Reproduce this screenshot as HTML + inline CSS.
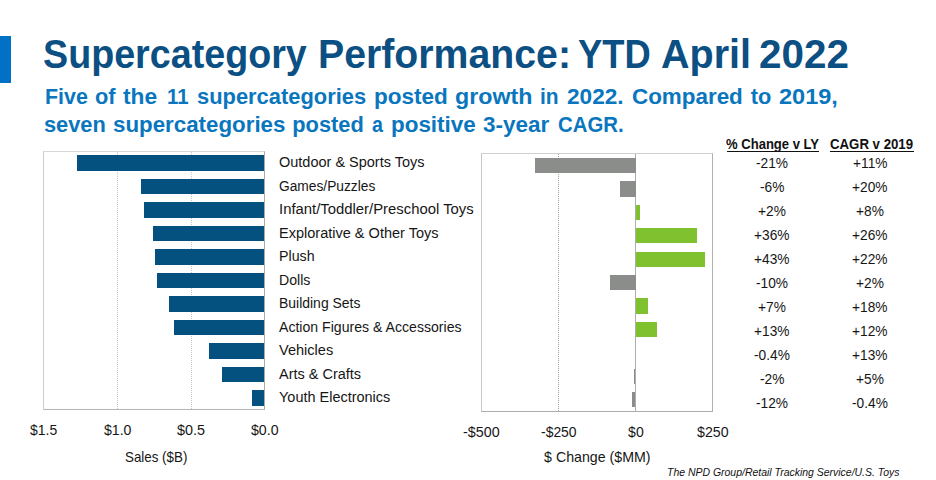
<!DOCTYPE html><html><head><meta charset="utf-8"><title>Supercategory Performance</title><style>
html,body{margin:0;padding:0;background:#fff;}body{width:936px;height:480px;position:relative;overflow:hidden;font-family:"Liberation Sans",sans-serif;}.t{position:absolute;white-space:nowrap;line-height:1;transform-origin:0 0;}.b{position:absolute;}
</style></head><body>
<div class="b" style="left:0;top:36px;width:11px;height:47px;background:#0071c5"></div>
<div class="b" style="left:43px;top:151px;width:220px;height:257px;border:1px solid #cdcdcd;border-top-color:#d8d8d8;border-right-color:#aeaaa4;border-bottom-color:#b4b4b4;"></div>
<div class="b" style="left:117px;top:152px;width:0;height:257px;border-left:1px dotted #c6c6c6"></div>
<div class="b" style="left:191px;top:152px;width:0;height:257px;border-left:1px dotted #c6c6c6"></div>
<div class="b" style="left:77px;top:155.05px;width:187.00px;height:15.5px;background:#04507f"></div>
<div class="b" style="left:141px;top:178.55px;width:123.00px;height:15.5px;background:#04507f"></div>
<div class="b" style="left:144px;top:202.05px;width:120.00px;height:15.5px;background:#04507f"></div>
<div class="b" style="left:153.3px;top:225.55px;width:110.70px;height:15.5px;background:#04507f"></div>
<div class="b" style="left:155.3px;top:249.05px;width:108.70px;height:15.5px;background:#04507f"></div>
<div class="b" style="left:157px;top:272.55px;width:107.00px;height:15.5px;background:#04507f"></div>
<div class="b" style="left:169.2px;top:296.05px;width:94.80px;height:15.5px;background:#04507f"></div>
<div class="b" style="left:174.3px;top:319.55px;width:89.70px;height:15.5px;background:#04507f"></div>
<div class="b" style="left:209.2px;top:343.05px;width:54.80px;height:15.5px;background:#04507f"></div>
<div class="b" style="left:222px;top:366.55px;width:42.00px;height:15.5px;background:#04507f"></div>
<div class="b" style="left:252.2px;top:390.05px;width:11.80px;height:15.5px;background:#04507f"></div>
<div class="b" style="left:481px;top:153px;width:230px;height:257px;border:1px solid #c6c6c6;border-top-color:#d0d0d0;border-bottom-color:#adadad;border-right-color:#b0b0b0"></div>
<div class="b" style="left:558px;top:154px;width:0;height:257px;border-left:1px dotted #a0a0a0"></div>
<div class="b" style="left:635px;top:154px;width:1px;height:257px;background:#adadad"></div>
<div class="b" style="left:535.00px;top:157.90px;width:100.50px;height:15.3px;background:#8b8d8b"></div>
<div class="b" style="left:620.00px;top:181.32px;width:15.50px;height:15.3px;background:#8b8d8b"></div>
<div class="b" style="left:636.00px;top:204.74px;width:4.30px;height:15.3px;background:#80c12f"></div>
<div class="b" style="left:636.00px;top:228.16px;width:60.80px;height:15.3px;background:#80c12f"></div>
<div class="b" style="left:636.00px;top:251.58px;width:68.70px;height:15.3px;background:#80c12f"></div>
<div class="b" style="left:610.00px;top:275.00px;width:25.50px;height:15.3px;background:#8b8d8b"></div>
<div class="b" style="left:636.00px;top:298.42px;width:11.90px;height:15.3px;background:#80c12f"></div>
<div class="b" style="left:636.00px;top:321.84px;width:20.90px;height:15.3px;background:#80c12f"></div>
<div class="b" style="left:634.20px;top:368.68px;width:1.30px;height:15.3px;background:#8b8d8b"></div>
<div class="b" style="left:632.20px;top:392.10px;width:3.30px;height:15.3px;background:#8b8d8b"></div>
<div class="b" style="left:726.5px;top:151px;width:92.5px;height:1px;background:#111"></div>
<div class="b" style="left:830px;top:151px;width:83.5px;height:1px;background:#111"></div>
<div class="t" style="left:43.07px;top:35.19px;font-size:40.3px;color:#0b4f83;transform:scaleX(0.9349);font-weight:bold;">Supercategory</div>
<div class="t" style="left:318.05px;top:35.19px;font-size:40.3px;color:#0b4f83;transform:scaleX(0.9737);font-weight:bold;">Performance:</div>
<div class="t" style="left:578.40px;top:35.19px;font-size:40.3px;color:#0b4f83;transform:scaleX(0.9013);font-weight:bold;">YTD</div>
<div class="t" style="left:660.72px;top:35.19px;font-size:40.3px;color:#0b4f83;transform:scaleX(0.9809);font-weight:bold;">April</div>
<div class="t" style="left:758.70px;top:35.19px;font-size:40.3px;color:#0b4f83;transform:scaleX(1.0034);font-weight:bold;">2022</div>
<div class="t" style="left:44.52px;top:85.55px;font-size:21.8px;color:#0a76be;transform:scaleX(0.9810);font-weight:bold;">Five</div>
<div class="t" style="left:95.00px;top:85.55px;font-size:21.8px;color:#0a76be;transform:scaleX(1.0000);font-weight:bold;">of</div>
<div class="t" style="left:123.30px;top:85.55px;font-size:21.8px;color:#0a76be;transform:scaleX(1.0437);font-weight:bold;">the</div>
<div class="t" style="left:166.76px;top:85.55px;font-size:21.8px;color:#0a76be;transform:scaleX(0.9364);font-weight:bold;">11</div>
<div class="t" style="left:197.30px;top:85.55px;font-size:21.8px;color:#0a76be;transform:scaleX(1.0042);font-weight:bold;">supercategories</div>
<div class="t" style="left:373.97px;top:85.55px;font-size:21.8px;color:#0a76be;transform:scaleX(1.0329);font-weight:bold;">posted</div>
<div class="t" style="left:455.00px;top:85.55px;font-size:21.8px;color:#0a76be;transform:scaleX(1.0653);font-weight:bold;">growth</div>
<div class="t" style="left:540.04px;top:85.55px;font-size:21.8px;color:#0a76be;transform:scaleX(0.9611);font-weight:bold;">in</div>
<div class="t" style="left:566.70px;top:85.55px;font-size:21.8px;color:#0a76be;transform:scaleX(1.0370);font-weight:bold;">2022.</div>
<div class="t" style="left:632.30px;top:85.55px;font-size:21.8px;color:#0a76be;transform:scaleX(1.0280);font-weight:bold;">Compared</div>
<div class="t" style="left:750.70px;top:85.55px;font-size:21.8px;color:#0a76be;transform:scaleX(1.0000);font-weight:bold;">to</div>
<div class="t" style="left:779.00px;top:85.55px;font-size:21.8px;color:#0a76be;transform:scaleX(1.0796);font-weight:bold;">2019,</div>
<div class="t" style="left:44.00px;top:114.25px;font-size:21.8px;color:#0a76be;transform:scaleX(1.0000);font-weight:bold;">seven</div>
<div class="t" style="left:112.98px;top:114.25px;font-size:21.8px;color:#0a76be;transform:scaleX(1.0240);font-weight:bold;">supercategories</div>
<div class="t" style="left:292.30px;top:114.25px;font-size:21.8px;color:#0a76be;transform:scaleX(1.0000);font-weight:bold;">posted</div>
<div class="t" style="left:371.65px;top:114.25px;font-size:21.8px;color:#0a76be;transform:scaleX(0.9000);font-weight:bold;">a</div>
<div class="t" style="left:390.67px;top:114.25px;font-size:21.8px;color:#0a76be;transform:scaleX(1.0284);font-weight:bold;">positive</div>
<div class="t" style="left:483.30px;top:114.25px;font-size:21.8px;color:#0a76be;transform:scaleX(1.0312);font-weight:bold;">3-year</div>
<div class="t" style="left:558.30px;top:114.25px;font-size:21.8px;color:#0a76be;transform:scaleX(0.9333);font-weight:bold;">CAGR.</div>
<div class="t" style="left:279.10px;top:156.27px;font-size:13.8px;color:#161616;transform:scaleX(1.0504);">Outdoor &amp; Sports Toys</div>
<div class="t" style="left:279.10px;top:179.79px;font-size:13.8px;color:#161616;transform:scaleX(0.9969);">Games/Puzzles</div>
<div class="t" style="left:279.10px;top:203.31px;font-size:13.8px;color:#161616;transform:scaleX(1.0773);">Infant/Toddler/Preschool Toys</div>
<div class="t" style="left:279.10px;top:226.83px;font-size:13.8px;color:#161616;transform:scaleX(1.0526);">Explorative &amp; Other Toys</div>
<div class="t" style="left:279.10px;top:250.35px;font-size:13.8px;color:#161616;transform:scaleX(1.0294);">Plush</div>
<div class="t" style="left:279.10px;top:273.87px;font-size:13.8px;color:#161616;transform:scaleX(1.0226);">Dolls</div>
<div class="t" style="left:279.10px;top:297.39px;font-size:13.8px;color:#161616;transform:scaleX(1.0111);">Building Sets</div>
<div class="t" style="left:279.10px;top:320.91px;font-size:13.8px;color:#161616;transform:scaleX(1.0218);">Action Figures &amp; Accessories</div>
<div class="t" style="left:279.10px;top:344.43px;font-size:13.8px;color:#161616;transform:scaleX(1.0549);">Vehicles</div>
<div class="t" style="left:279.10px;top:367.95px;font-size:13.8px;color:#161616;transform:scaleX(1.0500);">Arts &amp; Crafts</div>
<div class="t" style="left:279.10px;top:391.47px;font-size:13.8px;color:#161616;transform:scaleX(1.0491);">Youth Electronics</div>
<div class="t" style="left:29.70px;top:422.65px;font-size:14.0px;color:#161616;transform:scaleX(0.9963);">$1.5</div>
<div class="t" style="left:103.50px;top:422.65px;font-size:14.0px;color:#161616;transform:scaleX(1.0074);">$1.0</div>
<div class="t" style="left:176.80px;top:422.65px;font-size:14.0px;color:#161616;transform:scaleX(1.0259);">$0.5</div>
<div class="t" style="left:251.10px;top:422.65px;font-size:14.0px;color:#161616;transform:scaleX(1.0111);">$0.0</div>
<div class="t" style="left:125.06px;top:449.88px;font-size:14.2px;color:#161616;transform:scaleX(0.9415);">Sales ($B)</div>
<div class="t" style="left:463.30px;top:424.95px;font-size:14.0px;color:#161616;transform:scaleX(1.0222);">-$500</div>
<div class="t" style="left:541.00px;top:424.95px;font-size:14.0px;color:#161616;transform:scaleX(0.9944);">-$250</div>
<div class="t" style="left:628.10px;top:424.95px;font-size:14.0px;color:#161616;transform:scaleX(1.0000);">$0</div>
<div class="t" style="left:697.20px;top:424.95px;font-size:14.0px;color:#161616;transform:scaleX(1.0129);">$250</div>
<div class="t" style="left:544.10px;top:449.88px;font-size:14.2px;color:#161616;transform:scaleX(1.0000);">$ Change ($MM)</div>
<div class="t" style="left:667.35px;top:467.09px;font-size:11.0px;color:#111;transform:scaleX(0.9508);font-style:italic;">The NPD Group/Retail Tracking Service/U.S. Toys</div>
<div class="t" style="left:726.45px;top:136.83px;font-size:14.5px;color:#111;transform:scaleX(0.9000);font-weight:bold;">% Change v LY</div>
<div class="t" style="left:830.40px;top:136.83px;font-size:14.5px;color:#111;transform:scaleX(0.9121);font-weight:bold;">CAGR v 2019</div>
<div class="t" style="left:755.93px;top:155.40px;font-size:15.0px;color:#161616;transform:scaleX(0.9150);">-21%</div>
<div class="t" style="left:852.76px;top:155.40px;font-size:15.0px;color:#161616;transform:scaleX(0.9150);">+11%</div>
<div class="t" style="left:759.59px;top:179.33px;font-size:15.0px;color:#161616;transform:scaleX(0.9150);">-6%</div>
<div class="t" style="left:852.30px;top:179.33px;font-size:15.0px;color:#161616;transform:scaleX(0.9150);">+20%</div>
<div class="t" style="left:758.22px;top:203.26px;font-size:15.0px;color:#161616;transform:scaleX(0.9150);">+2%</div>
<div class="t" style="left:856.42px;top:203.26px;font-size:15.0px;color:#161616;transform:scaleX(0.9150);">+8%</div>
<div class="t" style="left:754.10px;top:227.19px;font-size:15.0px;color:#161616;transform:scaleX(0.9150);">+36%</div>
<div class="t" style="left:852.30px;top:227.19px;font-size:15.0px;color:#161616;transform:scaleX(0.9150);">+26%</div>
<div class="t" style="left:754.10px;top:251.12px;font-size:15.0px;color:#161616;transform:scaleX(0.9150);">+43%</div>
<div class="t" style="left:852.30px;top:251.12px;font-size:15.0px;color:#161616;transform:scaleX(0.9150);">+22%</div>
<div class="t" style="left:755.93px;top:275.05px;font-size:15.0px;color:#161616;transform:scaleX(0.9150);">-10%</div>
<div class="t" style="left:856.42px;top:275.05px;font-size:15.0px;color:#161616;transform:scaleX(0.9150);">+2%</div>
<div class="t" style="left:758.22px;top:298.98px;font-size:15.0px;color:#161616;transform:scaleX(0.9150);">+7%</div>
<div class="t" style="left:852.30px;top:298.98px;font-size:15.0px;color:#161616;transform:scaleX(0.9150);">+18%</div>
<div class="t" style="left:754.10px;top:322.91px;font-size:15.0px;color:#161616;transform:scaleX(0.9150);">+13%</div>
<div class="t" style="left:852.30px;top:322.91px;font-size:15.0px;color:#161616;transform:scaleX(0.9150);">+12%</div>
<div class="t" style="left:754.10px;top:346.84px;font-size:15.0px;color:#161616;transform:scaleX(0.9150);">-0.4%</div>
<div class="t" style="left:852.30px;top:346.84px;font-size:15.0px;color:#161616;transform:scaleX(0.9150);">+13%</div>
<div class="t" style="left:759.59px;top:370.77px;font-size:15.0px;color:#161616;transform:scaleX(0.9150);">-2%</div>
<div class="t" style="left:856.42px;top:370.77px;font-size:15.0px;color:#161616;transform:scaleX(0.9150);">+5%</div>
<div class="t" style="left:755.93px;top:394.70px;font-size:15.0px;color:#161616;transform:scaleX(0.9150);">-12%</div>
<div class="t" style="left:852.30px;top:394.70px;font-size:15.0px;color:#161616;transform:scaleX(0.9150);">-0.4%</div>
</body></html>
